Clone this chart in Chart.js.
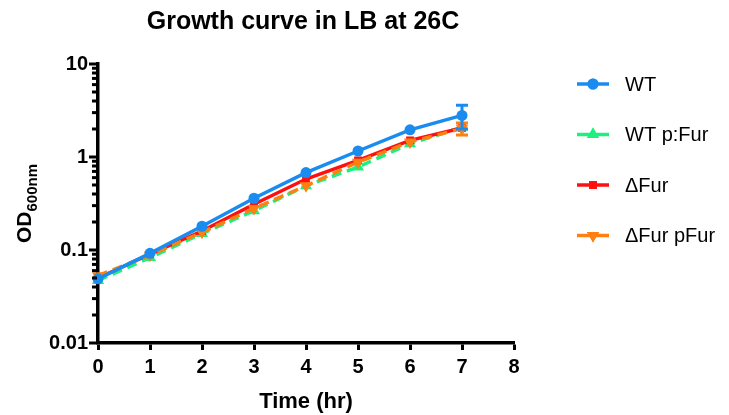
<!DOCTYPE html>
<html>
<head>
<meta charset="utf-8">
<script src="https://cdn.jsdelivr.net/npm/chart.js@4.4.1/dist/chart.umd.min.js"></script>
<style>
  html, body { margin: 0; padding: 0; background: #fff; }
  #wrap { width: 729px; height: 415px; position: relative; }
</style>
</head>
<body>
<div id="wrap"><canvas id="c"></canvas></div>
<script>
// ---- data ----
const hours = [0, 1, 2, 3, 4, 5, 6, 7];
const seriesNames = ['WT', 'WT p:Fur', '\u0394Fur', '\u0394Fur pFur'];
const wt       = [0.049, 0.092, 0.18, 0.36, 0.68, 1.16, 1.96, 2.80];
const wtSd     = [0.002, 0.003, 0.005, 0.01, 0.02, 0.04, 0.10, 0.80];
const wtPFur   = [0.047, 0.083, 0.150, 0.265, 0.49, 0.78, 1.39, 2.09];
const wtPFurSd = [0.002, 0.003, 0.005, 0.01, 0.02, 0.03, 0.05, 0.10];
const dFur     = [0.050, 0.090, 0.160, 0.310, 0.58, 0.92, 1.51, 2.05];
const dFurSd   = [0.002, 0.003, 0.005, 0.01, 0.02, 0.03, 0.05, 0.15];
const dFurPFur   = [0.053, 0.088, 0.155, 0.280, 0.49, 0.88, 1.45, 2.02];
const dFurPFurSd = [0.003, 0.003, 0.005, 0.01, 0.02, 0.03, 0.06, 0.30];
const xTickValues = [0, 1, 2, 3, 4, 5, 6, 7, 8];
const yTickValues = [0.01, 0.1, 1, 10];
const yTickLabels = ['0.01', '0.1', '1', '10'];
const titleText = 'Growth curve in LB at 26C';
const xTitle = 'Time (hr)';
const yTitleMain = 'OD';
const yTitleSub = '600nm';

const FONT = '"Liberation Sans", Arial, Helvetica, sans-serif';
const colors = ['#1a8cf0', '#1df07e', '#ff1010', '#ff8010'];
const styles = [
  { pointStyle: 'circle', rotation: 0, radius: 5.5, dash: [] },
  { pointStyle: 'triangle', rotation: 0, radius: 7, dash: [10, 6] },
  { pointStyle: 'rect', rotation: 0, radius: 5.5, dash: [] },
  { pointStyle: 'triangle', rotation: 180, radius: 7, dash: [10, 6] }
];
const values = [wt, wtPFur, dFur, dFurPFur];
const errs = [wtSd, wtPFurSd, dFurSd, dFurPFurSd];
const drawOrder = [0, 3, 2, 1]; // lower = on top

const datasets = seriesNames.map((name, i) => ({
  label: name,
  data: hours.map((h, j) => ({ x: h, y: values[i][j] })),
  sd: errs[i],
  borderColor: colors[i],
  backgroundColor: colors[i],
  borderWidth: 3.5,
  borderDash: styles[i].dash,
  pointStyle: styles[i].pointStyle,
  rotation: styles[i].rotation,
  pointRadius: styles[i].radius,
  pointBorderWidth: 0,
  pointBackgroundColor: colors[i],
  tension: 0,
  order: drawOrder[i],
  clip: false
}));

const errorBars = {
  id: 'errorBars',
  afterDatasetDraw(chart, args) {
    const ds = chart.data.datasets[args.index];
    const ys = chart.scales.y, xs = chart.scales.x;
    const ctx = chart.ctx;
    ctx.save();
    ctx.strokeStyle = ds.borderColor;
    ctx.lineWidth = 3;
    ctx.setLineDash([]);
    ds.data.forEach((p, j) => {
      const sd = ds.sd[j];
      const x = xs.getPixelForValue(p.x);
      const yt = ys.getPixelForValue(p.y + sd);
      const yb = ys.getPixelForValue(Math.max(p.y - sd, 1e-4));
      if (Math.abs(yb - yt) < 10) return;
      ctx.beginPath();
      ctx.moveTo(x, yt); ctx.lineTo(x, yb);
      ctx.moveTo(x - 6, yt); ctx.lineTo(x + 6, yt);
      ctx.moveTo(x - 6, yb); ctx.lineTo(x + 6, yb);
      ctx.stroke();
    });
    ctx.restore();
  }
};

const decor = {
  id: 'decor',
  afterDraw(chart) {
    const ctx = chart.ctx;
    const ca = chart.chartArea;
    const ys = chart.scales.y;
    ctx.save();
    // y ticks (major + minor)
    ctx.strokeStyle = '#000';
    ctx.lineWidth = 3;
    for (let d = -2; d <= 1; d++) {
      for (let m = 1; m <= 9; m++) {
        const v = m * Math.pow(10, d);
        if (v > 10.0001) continue;
        const y = ys.getPixelForValue(v);
        const len = (m === 1) ? 8 : 5;
        ctx.beginPath();
        ctx.moveTo(ca.left - 1, y);
        ctx.lineTo(ca.left - 1 - len, y);
        ctx.stroke();
      }
    }
    // title
    ctx.fillStyle = '#000';
    ctx.textAlign = 'center';
    ctx.textBaseline = 'middle';
    ctx.font = 'bold 25px ' + FONT;
    ctx.fillText(titleText, 303, 22);
    // x title
    ctx.font = 'bold 22px ' + FONT;
    ctx.fillText(xTitle, (ca.left + ca.right) / 2, 402);
    // y title with subscript
    ctx.translate(23, (ca.top + ca.bottom) / 2);
    ctx.rotate(-Math.PI / 2);
    ctx.font = 'bold 21px ' + FONT;
    const w1 = ctx.measureText(yTitleMain).width;
    ctx.font = 'bold 15px ' + FONT;
    const w2 = ctx.measureText(yTitleSub).width;
    const start = -(w1 + w2) / 2;
    ctx.textAlign = 'left';
    ctx.textBaseline = 'alphabetic';
    ctx.font = 'bold 21px ' + FONT;
    ctx.fillText(yTitleMain, start, 7.5);
    ctx.font = 'bold 15px ' + FONT;
    ctx.fillText(yTitleSub, start + w1, 14);
    ctx.restore();

    // legend
    ctx.save();
    chart.data.datasets.forEach((ds, i) => {
      const y = 84 + i * 50.5;
      const x0 = 577, x1 = 609, xm = 593;
      ctx.strokeStyle = ds.borderColor;
      ctx.lineWidth = 3.5;
      ctx.setLineDash([]);
      ctx.beginPath(); ctx.moveTo(x0, y); ctx.lineTo(x1, y); ctx.stroke();
      ctx.fillStyle = ds.borderColor;
      Chart.helpers.drawPoint(ctx, {
        pointStyle: ds.pointStyle, rotation: ds.rotation,
        radius: ds.pointRadius, borderWidth: 0
      }, xm, y);
      ctx.fill();
      ctx.fillStyle = '#000';
      ctx.font = '20px ' + FONT;
      ctx.textAlign = 'left';
      ctx.textBaseline = 'middle';
      ctx.fillText(ds.label, 625, y + 1);
    });
    ctx.restore();
  }
};

new Chart(document.getElementById('c'), {
  type: 'line',
  data: { datasets },
  plugins: [errorBars, decor],
  options: {
    responsive: true,
    maintainAspectRatio: false,
    animation: false,
    layout: { padding: { left: 40, right: 215, top: 64, bottom: 0 } },
    plugins: { legend: { display: false }, title: { display: false }, tooltip: { enabled: false } },
    scales: {
      x: {
        type: 'linear', min: 0, max: 8,
        afterBuildTicks: s => { s.ticks = xTickValues.map(v => ({ value: v })); },
        afterFit: s => { s.height = 72; },
        border: { display: true, color: '#000', width: 3.5 },
        grid: { display: true, drawOnChartArea: false, drawTicks: true, tickLength: 7, tickWidth: 3, tickColor: '#000' },
        ticks: { color: '#000', font: { family: FONT, size: 20, weight: 'bold' }, padding: 5, maxRotation: 0, autoSkip: false }
      },
      y: {
        type: 'logarithmic', min: 0.01, max: 10,
        afterBuildTicks: s => { s.ticks = yTickValues.map(v => ({ value: v, major: true })); },
        afterFit: s => { s.width = 58; },
        border: { display: true, color: '#000', width: 3.5 },
        grid: { display: false, drawOnChartArea: false, drawTicks: false },
        ticks: {
          color: '#000', font: { family: FONT, size: 20, weight: 'bold' }, padding: 10, autoSkip: false,
          callback: (v) => { const k = yTickValues.findIndex(t => Math.abs(t - v) < 1e-9); return k >= 0 ? yTickLabels[k] : ''; }
        }
      }
    }
  }
});
</script>
</body>
</html>
